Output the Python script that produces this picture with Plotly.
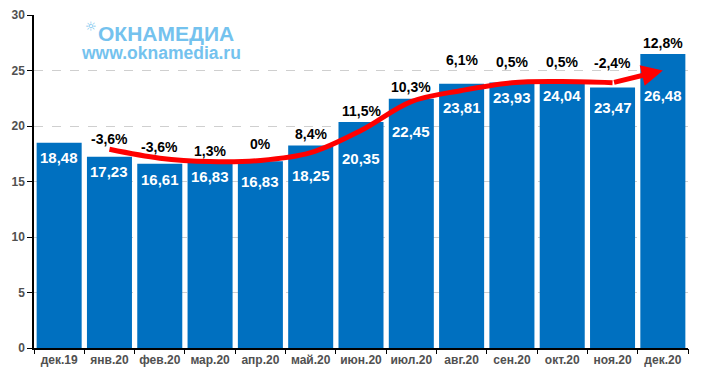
import plotly.graph_objects as go

categories = ["дек.19", "янв.20", "фев.20", "мар.20", "апр.20", "май.20", "июн.20",
              "июл.20", "авг.20", "сен.20", "окт.20", "ноя.20", "дек.20"]
values = [18.48, 17.23, 16.61, 16.83, 16.83, 18.25, 20.35, 22.45, 23.81, 23.93, 24.04, 23.47, 26.48]
pct_labels = ["", "-3,6%", "-3,6%", "1,3%", "0%", "8,4%", "11,5%", "10,3%", "6,1%",
              "0,5%", "0,5%", "-2,4%", "12,8%"]
trend = [17.9, 17.1, 16.8, 16.9, 17.6, 19.6, 22.2, 23.2, 23.9, 24.0, 23.9, 25.0]
y_ticks = [0, 5, 10, 15, 20, 25, 30]

# label placement (pixels) — layout only
value_shift = [15, 15, 16, 15, 20, 30, 36, 33, 24, 15, 14, 20, 41]
pct_shift = [0, 18, 17, 10, 17, 11, 11, 12, 24, 20, 19, 24, 11]

FONT = "Arial, Liberation Sans, sans-serif"
BLUE = "#0070C0"
RED = "#FF0000"
LOGO = "#74C2EE"

W, H = 703, 378
ml, mr, mt, mb = 34, 15, 15, 30
pw, ph = W - ml - mr, H - mt - mb


def paper(x, y):
    return (x - ml) / pw, 1 - (y - mt) / ph


n = len(categories)
fig = go.Figure()
fig.add_trace(go.Bar(x=list(range(n)), y=values, marker_color=BLUE,
                     marker_line_width=0, hoverinfo="skip"))

# trend line (jan .. nov) then arrow to dec
fig.add_trace(go.Scatter(x=list(range(1, n - 1)), y=trend[:-1], mode="lines",
                         line=dict(color=RED, width=5, shape="spline", smoothing=1.0),
                         hoverinfo="skip"))

annotations = [dict(x=n - 1, y=trend[-1], ax=n - 2, ay=trend[-2], xref="x", yref="y",
                    axref="x", ayref="y", showarrow=True, arrowhead=2, arrowsize=0.85,
                    arrowwidth=5, arrowcolor=RED, text="")]

for i, v in enumerate(values):
    annotations.append(dict(x=i, y=v, xref="x", yref="y", showarrow=False,
                            text=f"{v:.2f}".replace(".", ","), yanchor="middle",
                            yshift=-value_shift[i],
                            font=dict(family=FONT, size=15, color="white", weight="bold")))
    if pct_labels[i]:
        annotations.append(dict(x=i, y=v, xref="x", yref="y", showarrow=False,
                                text=pct_labels[i], yanchor="middle", yshift=pct_shift[i],
                                font=dict(family=FONT, size=14, color="black", weight="bold")))

lx, ly = paper(166, 33)
annotations.append(dict(x=lx, y=ly, xref="paper", yref="paper", showarrow=False,
                        xanchor="center", yanchor="middle", text="ОКНАМЕДИА",
                        font=dict(family=FONT, size=21, color=LOGO, weight="bold")))
lx, ly = paper(91, 26)
annotations.append(dict(x=lx, y=ly, xref="paper", yref="paper", showarrow=False,
                        xanchor="center", yanchor="middle", text="☼",
                        font=dict(family="DejaVu Sans", size=13, color=LOGO)))
lx, ly = paper(161, 53)
annotations.append(dict(x=lx, y=ly, xref="paper", yref="paper", showarrow=False,
                        xanchor="center", yanchor="middle", text="www.oknamedia.ru",
                        font=dict(family=FONT, size=17.5, color=LOGO, weight="bold")))

fig.update_layout(
    annotations=annotations,
    width=W, height=H,
    margin=dict(l=ml, r=mr, t=mt, b=mb, pad=0, autoexpand=False),
    paper_bgcolor="white", plot_bgcolor="white",
    showlegend=False,
    bargap=0.105,
    xaxis=dict(tickmode="array", tickvals=list(range(n)), ticktext=categories,
               range=[-0.5, n - 0.5], showgrid=False, showline=True, linecolor="black",
               linewidth=1.5, ticks="", automargin=False,
               tickfont=dict(family=FONT, size=12, color="#505050", weight="bold"),
               zeroline=False),
    yaxis=dict(range=[0, 30], tickvals=y_ticks, showgrid=True, gridcolor="#CFCFCF",
               griddash="dash", gridwidth=1, showline=True, linecolor="black", linewidth=1.5,
               ticks="outside", ticklen=5, tickcolor="black", zeroline=False, automargin=False,
               tickfont=dict(family=FONT, size=12, color="#505050", weight="bold")),
    xaxis2=dict(overlaying="x", matches="x", range=[-0.5, n - 0.5], tickmode="array",
                tickvals=[i - 0.5 for i in range(n + 1)], ticks="outside", ticklen=5,
                tickcolor="black", showticklabels=False, showgrid=False, side="bottom",
                anchor="y", showline=False, zeroline=False, automargin=False),
)
# an empty trace so the boundary ticks of xaxis2 are drawn
fig.add_trace(go.Scatter(x=[], y=[], xaxis="x2", yaxis="y", showlegend=False))

fig.write_html("out.html", config={"displayModeBar": False},
               post_script="document.body.style.margin='0';document.body.style.overflow='hidden';")
